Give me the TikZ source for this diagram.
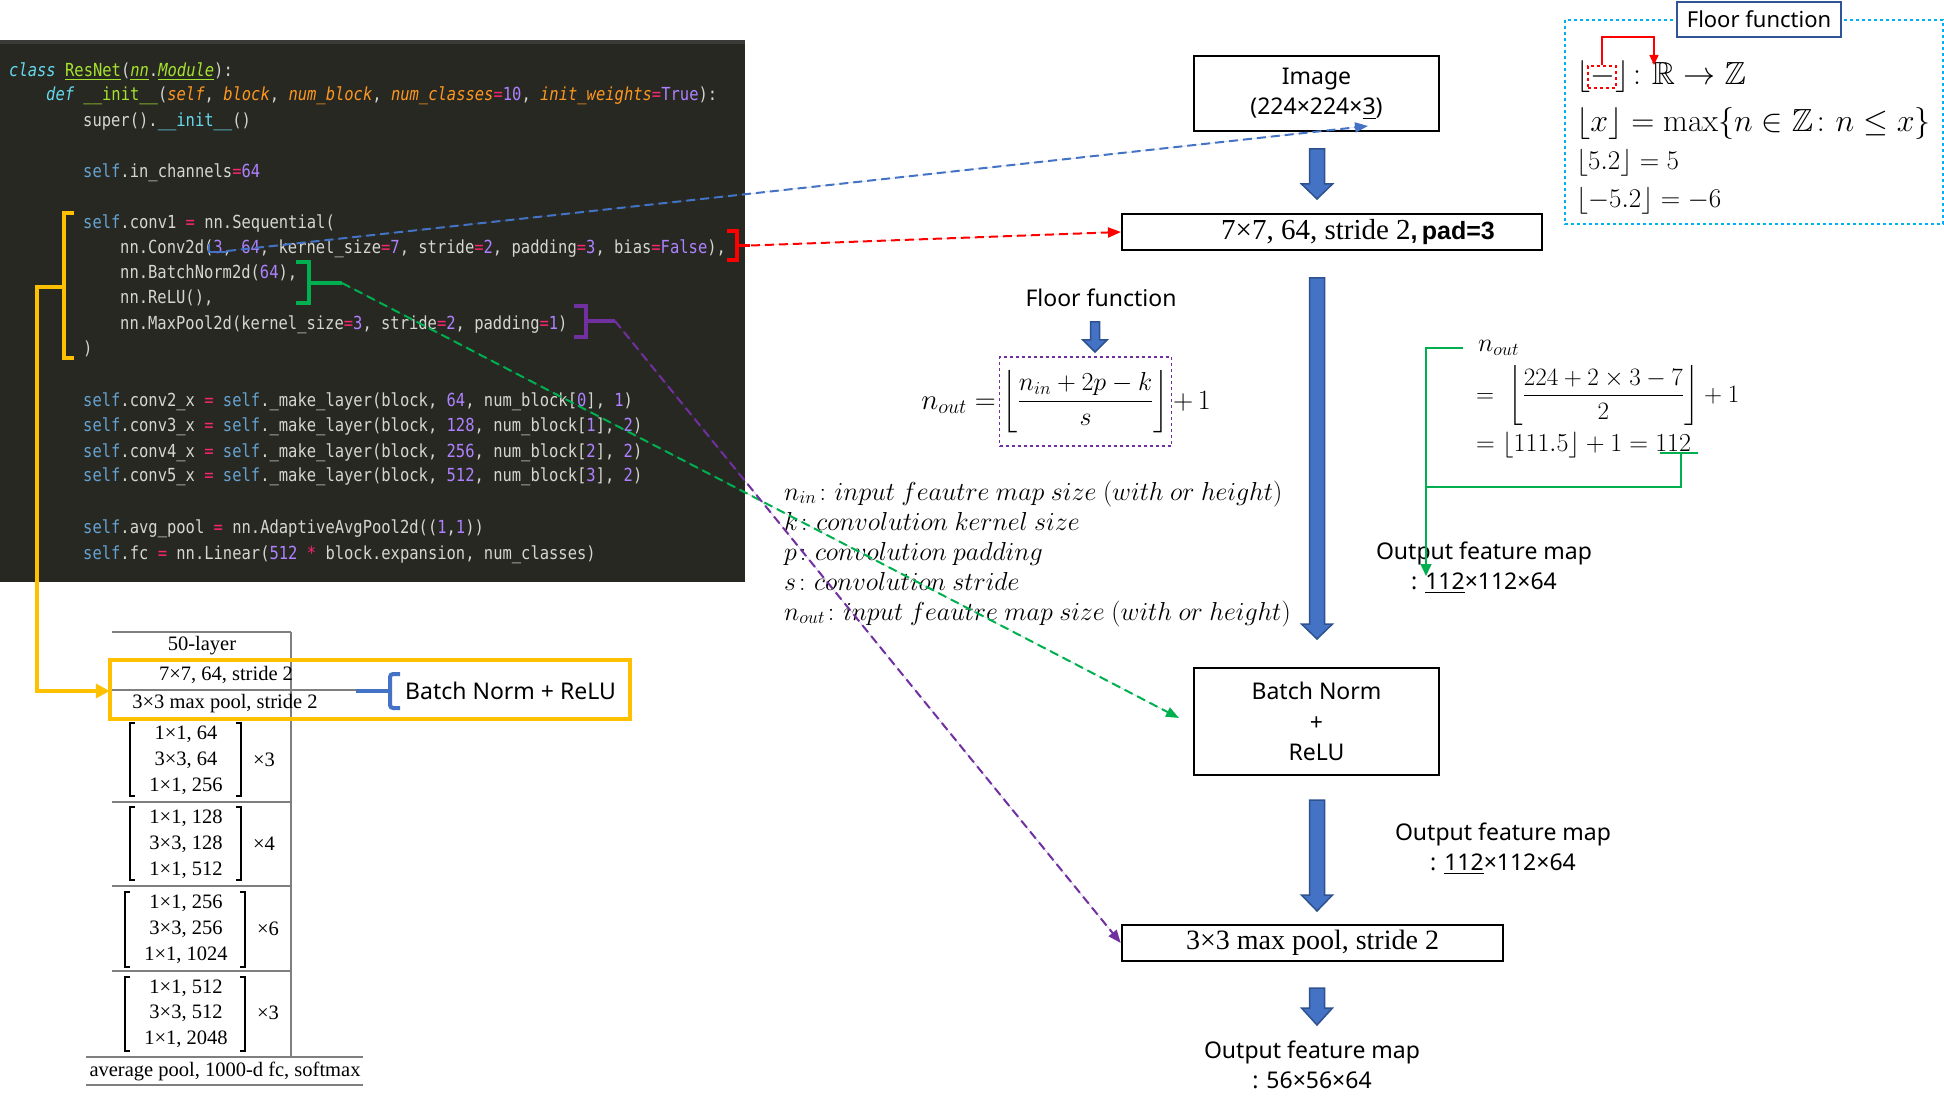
\RequirePackage{fix-cm}
\documentclass[tikz,border=0pt]{standalone}
\usepackage{amsmath,amssymb}
\usepackage[no-math]{fontspec}
\setmainfont{Liberation Serif}
\newfontfamily\sansf{Noto Sans}
\newfontfamily\sansb{Liberation Sans}
\newfontfamily\codef[FakeStretch=0.86]{DejaVu Sans Mono}
\usetikzlibrary{arrows.meta}

\definecolor{codebg}{HTML}{272822}
\definecolor{codetop}{HTML}{3A3A38}
\definecolor{cwhite}{HTML}{D6D6D0}
\definecolor{ccy}{HTML}{66D9EF}
\definecolor{cgr}{HTML}{A6E22E}
\definecolor{cor}{HTML}{FD971F}
\definecolor{cpk}{HTML}{F92672}
\definecolor{cpu}{HTML}{AE81FF}
\definecolor{selfc}{HTML}{66A3D2}
\definecolor{ybr}{HTML}{FFC000}
\definecolor{bblue}{HTML}{4472C4}
\definecolor{bdark}{HTML}{2F528F}
\definecolor{grn}{HTML}{00B050}
\definecolor{pur}{HTML}{7030A0}
\definecolor{cyanb}{HTML}{00B0F0}
\definecolor{titleb}{HTML}{2F5597}
\definecolor{tgray}{HTML}{7F7F7F}

\newcommand{\ckw}[1]{\textcolor{ccy}{\itshape #1}}
\newcommand{\cgrn}[1]{\textcolor{cgr}{#1}}
\newcommand{\cgrni}[1]{\textcolor{cgr}{\itshape #1}}
\newcommand{\cpar}[1]{\textcolor{cor}{\itshape #1}}
\newcommand{\cop}[1]{\textcolor{cpk}{#1}}
\newcommand{\cnum}[1]{\textcolor{cpu}{#1}}
\newcommand{\ccyan}[1]{\textcolor{ccy}{#1}}
\newcommand{\cself}{\textcolor{selfc}{self}}

\newcommand{\bigarrow}[6]{%
  \filldraw[blk] (#1-#4,#2) -- (#1+#4,#2) -- (#1+#4,#3-#6) -- (#1+#5,#3-#6) -- (#1,#3)
    -- (#1-#5,#3-#6) -- (#1-#4,#3-#6) -- cycle;}
\newcommand{\tbrack}[4]{%
  \draw[line width=1.5] (#1+5,#3) -- (#1,#3) -- (#1,#4) -- (#1+5,#4);
  \draw[line width=1.5] (#2-5,#3) -- (#2,#3) -- (#2,#4) -- (#2-5,#4);}

\tikzset{
  dashconn/.style={line width=2, dash pattern=on 9pt off 5pt, -{Triangle[length=13pt,width=10pt]}},
  codebr/.style={line width=3.5},
  codeln/.style={anchor=base west, inner sep=0, text=cwhite, font=\codef\fontsize{18}{25}\selectfont},
  boxn/.style={draw=black, line width=2, inner sep=0, font=\sansf\fontsize{23}{30.5}\selectfont, align=center},
  sanslbl/.style={inner sep=0, font=\sansf\fontsize{23}{30}\selectfont, align=center},
  tbl/.style={inner sep=0, font=\fontsize{20.5}{25}\selectfont},
  tline/.style={draw=tgray, line width=1.4},
  blk/.style={fill=bblue, draw=bdark, line width=1.5},
  mathlbl/.style={inner sep=0, font=\fontsize{26}{30}\selectfont},
  gline/.style={draw=grn, line width=1.5},
}

\begin{document}
\begin{tikzpicture}[x=1pt,y=-1pt]
\useasboundingbox (0,0) rectangle (1944,1115);
\fill[white] (0,0) rectangle (1944,1115);

% ---------------- code panel
\fill[codebg] (0,40) rectangle (745,582);
\fill[codetop] (0,40) rectangle (745,44);

\node[codeln] (c1) at (9,76.5) {\ckw{class} \cgrn{\underline{ResNet}}(\cgrni{\underline{nn}}.\cgrni{\underline{Module}}):};
\node[codeln] (c2) at (46,100.5) {\ckw{def} \cgrn{\_\_init\_\_}(\cpar{self}, \cpar{block}, \cpar{num\_block}, \cpar{num\_classes}\cop{=}\cnum{10}, \cpar{init\_weights}\cop{=}\cnum{True}):};
\node[codeln] (c3) at (83,126.5) {super().\ccyan{\_\_init\_\_}()};
\node[codeln] (c4) at (83,177.5) {\cself.in\_channels\cop{=}\cnum{64}};
\node[codeln] (c5) at (83,228.5) {\cself.conv1 \cop{=} nn.Sequential(};
\node[codeln] (c6) at (120,253.5) {nn.Conv2d(\cnum{3}, \cnum{64}, kernel\_size\cop{=}\cnum{7}, stride\cop{=}\cnum{2}, padding\cop{=}\cnum{3}, bias\cop{=}\cnum{False}),};
\node[codeln] (c7) at (120,278.5) {nn.BatchNorm2d(\cnum{64}),};
\node[codeln] (c8) at (120,303.5) {nn.ReLU(),};
\node[codeln] (c9) at (120,329.5) {nn.MaxPool2d(kernel\_size\cop{=}\cnum{3}, stride\cop{=}\cnum{2}, padding\cop{=}\cnum{1})};
\node[codeln] (c10) at (83,354.5) {)};
\node[codeln] (c11) at (83,406.5) {\cself.conv2\_x \cop{=} \cself.\_make\_layer(block, \cnum{64}, num\_block[\cnum{0}], \cnum{1})};
\node[codeln] (c12) at (83,431.5) {\cself.conv3\_x \cop{=} \cself.\_make\_layer(block, \cnum{128}, num\_block[\cnum{1}], \cnum{2})};
\node[codeln] (c13) at (83,457.5) {\cself.conv4\_x \cop{=} \cself.\_make\_layer(block, \cnum{256}, num\_block[\cnum{2}], \cnum{2})};
\node[codeln] (c14) at (83,481.5) {\cself.conv5\_x \cop{=} \cself.\_make\_layer(block, \cnum{512}, num\_block[\cnum{3}], \cnum{2})};
\node[codeln] (c15) at (83,533.5) {\cself.avg\_pool \cop{=} nn.AdaptiveAvgPool2d((\cnum{1},\cnum{1}))};
\node[codeln] (c16) at (83,559.5) {\cself.fc \cop{=} nn.Linear(\cnum{512} \cop{*} block.expansion, num\_classes)};

% code brackets
\draw[ybr, codebr, line width=4] (74,213) -- (64,213) -- (64,358) -- (74,358);
\draw[bblue, line width=2.5] (209,244) -- (209,252) -- (227,252);
\draw[red, codebr] (727,231) -- (737,231) -- (737,260) -- (727,260);
\draw[red, codebr] (737,245.5) -- (750,245.5);
\draw[grn, codebr] (296,262) -- (309,262) -- (309,303) -- (296,303);
\draw[grn, codebr] (309,283) -- (342,283);
\draw[pur, codebr] (574,306) -- (586,306) -- (586,337) -- (574,337);
\draw[pur, codebr] (586,321) -- (615,321);

\coordinate (bluestart) at (227,251);
\coordinate (redstart) at (751,245.5);
\coordinate (greenstart) at (342,283);
\coordinate (purstart) at (615,321);

% ---------------- right flow
\node[boxn, minimum width=245, minimum height=75] (img) at (1316.5,93.5) {Image\\(224×224×\underline{3})};
\node[boxn, minimum width=420, minimum height=36, font=\fontsize{29}{32}\selectfont] (conv) at (1332,232)
  {\hspace*{52pt}7×7, 64, stride 2{\sansb\bfseries\fontsize{25}{30}\selectfont,\,pad=3}};
\node[boxn, minimum width=245, minimum height=107] (bn) at (1316.5,721.5) {Batch Norm\\+\\ReLU};
\node[boxn, minimum width=381, minimum height=36, line width=2.5, font=\fontsize{28}{32}\selectfont] (pool) at (1312.5,943) {3×3 max pool, stride 2};

\bigarrow{1317}{149}{199}{7.5}{15.5}{15}
\bigarrow{1317}{278}{639}{7.5}{15.5}{15}
\bigarrow{1317}{800}{911}{7.5}{15.5}{16}
\bigarrow{1317}{988}{1025}{7.5}{15.5}{17}
\bigarrow{1095}{322}{352}{4.5}{12}{12}

\node[sanslbl] (ofm1) at (1503,849) {Output feature map\\: \underline{112}×112×64};
\node[sanslbl] (ofm2) at (1312,1065) {Output feature map\\: 56×56×64};

% ---------------- formula
\node[sanslbl] (fftxt) at (1101,298) {Floor function};
\node[draw=pur, dashed, line width=1.5, inner xsep=3, inner ysep=6, minimum width=171, minimum height=89, font=\fontsize{26}{30}\selectfont]
  (floorfrac) at (1085.5,401.5) {$\left\lfloor\dfrac{n_{in}+2p-k}{s}\right\rfloor$};
\node[mathlbl, font=\fontsize{29}{32}\selectfont, anchor=base east] (noutl) at (996,409) {$n_{out} =$};
\node[mathlbl, font=\fontsize{28}{32}\selectfont, anchor=base west] (plus1) at (1173,409) {$+\,1$};

\node[mathlbl, anchor=base west] (d1) at (784,500) {$n_{in}\colon input\ feautre\ map\ size\ (with\ or\ height)$};
\node[mathlbl, anchor=base west] (d2) at (784,530) {$k\colon convolution\ kernel\ size$};
\node[mathlbl, anchor=base west] (d3) at (784,560) {$p\colon convolution\ padding$};
\node[mathlbl, anchor=base west] (d4) at (784,590) {$s\colon convolution\ stride$};
\node[mathlbl, anchor=base west] (d5) at (784,620) {$n_{out}\colon input\ feautre\ map\ size\ (with\ or\ height)$};

% ---------------- right calculation
\node[mathlbl, font=\fontsize{26}{30}\selectfont, anchor=base west] (calc1) at (1478,352) {$n_{out}$};
\node[mathlbl, font=\fontsize{25}{30}\selectfont, anchor=west] (calc2) at (1476,396) {$= \;\left\lfloor\dfrac{224+2\times 3-7}{2}\right\rfloor + 1$};
\node[mathlbl, font=\fontsize{26}{30}\selectfont, anchor=base west] (calc3) at (1476,451) {$= \lfloor 111.5\rfloor + 1 = 112$};
\node[sanslbl] (ofm0) at (1484,567.5) {Output feature map\\: \underline{112}×112×64};

\coordinate (gA) at (1463,348);
\coordinate (gB) at (1426,348);
\coordinate (gC) at (1426,576);
\coordinate (gD) at (1660,453);
\coordinate (gE) at (1698,453);
\coordinate (gF) at (1681,453);
\coordinate (gG) at (1426,487);
\draw[gline, -{Triangle[length=12pt,width=11pt]}] (gA) -- (gB) -- (gC);
\draw[gline] (gD) -- (gE);
\draw[gline] (gF) |- (gG);

% ---------------- floor function box
\draw[cyanb, dashed, line width=1.5] (1565,20) rectangle (1943,224);
\node[draw=titleb, fill=white, line width=1.5, minimum width=164, minimum height=35, inner sep=0, font=\sansf\fontsize{22}{26}\selectfont] (fftitle) at (1759,19.5) {Floor function};
\node[inner sep=0, anchor=west, font=\fontsize{32}{36}\selectfont] (fl1) at (1576,77) {$\lfloor{-}\rfloor\colon\mathbb{R}\to\mathbb{Z}$};
\node[inner sep=0, anchor=west, font=\fontsize{32}{36}\selectfont] (fl2) at (1576,124) {$\lfloor x\rfloor = \max\{n\in\mathbb{Z}\colon n\le x\}$};
\node[inner sep=0, anchor=west, font=\fontsize{27}{30}\selectfont] (fl3) at (1576,163) {$\lfloor 5.2\rfloor = 5$};
\node[inner sep=0, anchor=west, font=\fontsize{27}{30}\selectfont] (fl4) at (1576,201) {$\lfloor -5.2\rfloor = -6$};
\node[draw=red, dashed, line width=1.5, minimum width=28, minimum height=22, inner sep=0] (phbox) at (1602,77) {};
\coordinate (Rtop) at (1654,65);
\draw[red, line width=1.5, -{Triangle[length=10pt,width=9pt]}] (phbox.north) -- ++(0,-28) -| (Rtop);

% ---------------- table
\draw[tline] (112,632) -- (291,632);
\draw[tline] (291,632) -- (291,1057);
\draw[tline] (112,690) -- (356,690);
\draw[tline] (112,802) -- (291,802);
\draw[tline] (112,886) -- (291,886);
\draw[tline] (112,971) -- (291,971);
\draw[tline] (86,1057) -- (363,1057);
\draw[tline] (86,1085) -- (363,1085);

\node[tbl] (t50) at (202,646) {50-layer};
\node[tbl] (t77) at (226,675) {7×7, 64, stride 2};
\node[tbl] (t33) at (225,704) {3×3 max pool, stride 2};
\node[tbl] (r11) at (186,734) {1×1, 64};
\node[tbl] (r12) at (186,760) {3×3, 64};
\node[tbl] (r13) at (186,786) {1×1, 256};
\node[tbl] (x1) at (264,760) {×3};
\node[tbl] (r21) at (186,818) {1×1, 128};
\node[tbl] (r22) at (186,844) {3×3, 128};
\node[tbl] (r23) at (186,870) {1×1, 512};
\node[tbl] (x2) at (264,844) {×4};
\node[tbl] (r31) at (186,903) {1×1, 256};
\node[tbl] (r32) at (186,929) {3×3, 256};
\node[tbl] (r33) at (186,955) {1×1, 1024};
\node[tbl] (x3) at (268,929) {×6};
\node[tbl] (r41) at (186,988) {1×1, 512};
\node[tbl] (r42) at (186,1013) {3×3, 512};
\node[tbl] (r43) at (186,1039) {1×1, 2048};
\node[tbl] (x4) at (268,1013) {×3};
\node[tbl] (tavg) at (225,1071) {average pool, 1000-d fc, softmax};
\tbrack{130}{241}{723}{796}
\tbrack{130}{241}{807}{880}
\tbrack{125}{245}{892}{967}
\tbrack{125}{245}{977}{1051}

\draw[ybr, line width=4.5] (110,660) rectangle (630,719);
\coordinate (yelA) at (64,287);
\node[inner sep=0, minimum size=0] (yelbox) at (110,691) {};
\draw[ybr, line width=4, -{Triangle[length=14pt,width=14pt]}] (yelA) -- (37,287) |- (yelbox);

\draw[bblue, line width=4] (356,691) -- (390,691);
\draw[bblue, line width=4, rounded corners=3] (400,674) -- (390,674) -- (390,708) -- (400,708);
\node[sanslbl, anchor=west] (bnr) at (405,691) {Batch Norm + ReLU};

% ---------------- dashed connectors
\coordinate (img3) at (1368,126);
\coordinate (bntip) at (1179,718);
\draw[dashconn, draw=bblue, fill=bblue] (bluestart) -- (img3);
\draw[dashconn, draw=red, fill=red] (redstart) -- (conv.west);
\draw[dashconn, draw=grn, fill=grn] (greenstart) -- (bntip);
\draw[dashconn, draw=pur, fill=pur] (purstart) -- (pool.west);
\end{tikzpicture}
\end{document}
